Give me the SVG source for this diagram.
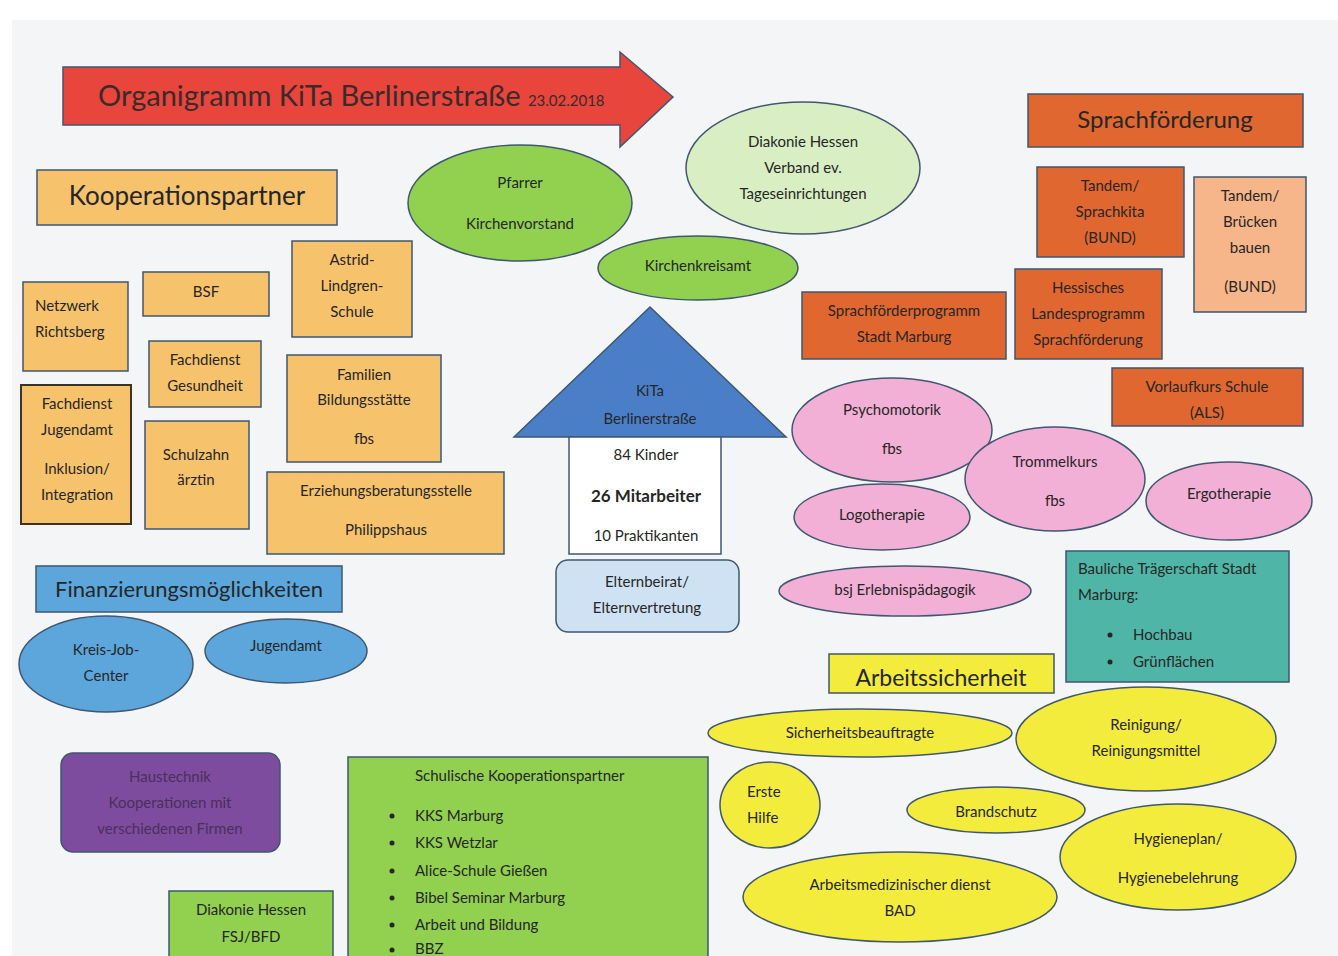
<svg xmlns="http://www.w3.org/2000/svg" width="1338" height="956" viewBox="0 0 1338 956">
<defs>
<style>
text{font-family:Lato,"Open Sans","Liberation Sans",sans-serif;font-size:15px;fill:#262626;text-anchor:middle}
.l{text-anchor:start}
.big{font-size:26px}
.mid{font-size:22px}
.b{stroke:#3f5770;stroke-width:1.5}
.or{fill:#f6c36c}
.rd{fill:#e0672f}
.gr{fill:#92d050}
.pk{fill:#f3b0d6}
.ye{fill:#f3ec3c}
.bl{fill:#5ca6dc}
</style>
</defs>
<rect width="1338" height="956" fill="#ffffff"/>
<rect x="12" y="20" width="1326" height="936" fill="#f3f5f7"/>

<g id="title">
<polygon points="63,67 620,67 620,52 673,97 620,147 620,125 63,125" fill="#e8453c" class="b"/>
<text x="98" y="106" class="l" style="font-size:29px;fill:#3a2a2a">Organigramm KiTa Berlinerstraße <tspan style="font-size:15px">23.02.2018</tspan></text>
</g>

<g id="kooperationspartner">
<rect x="37" y="170" width="300" height="55" class="or b"/>
<text x="187" y="205" class="big">Kooperationspartner</text>
</g>
<g id="pfarrer">
<ellipse cx="520" cy="203" rx="112" ry="58" class="gr b"/>
<text x="520" y="188">Pfarrer</text>
<text x="520" y="229">Kirchenvorstand</text>
</g>
<g id="diakonie-verband">
<ellipse cx="803" cy="168" rx="117" ry="66" fill="#d9eec3" class="b"/>
<text x="803" y="147">Diakonie Hessen</text>
<text x="803" y="173">Verband ev.</text>
<text x="803" y="199">Tageseinrichtungen</text>
</g>
<g id="kirchenkreisamt">
<ellipse cx="698" cy="268" rx="100" ry="32" class="gr b"/>
<text x="698" y="271">Kirchenkreisamt</text>
</g>

<g id="sprachfoerderung">
<rect x="1028" y="94" width="275" height="53" class="rd b"/>
<text x="1165" y="128" class="mid" style="font-size:24px">Sprachförderung</text>
</g>
<g id="tandem-sprachkita">
<rect x="1037" y="167" width="147" height="90" class="rd b"/>
<text x="1110" y="191">Tandem/</text>
<text x="1110" y="217">Sprachkita</text>
<text x="1110" y="243">(BUND)</text>
</g>
<g id="tandem-bruecken">
<rect x="1194" y="177" width="112" height="135" fill="#f7b58a" class="b"/>
<text x="1250" y="201">Tandem/</text>
<text x="1250" y="227">Brücken</text>
<text x="1250" y="253">bauen</text>
<text x="1250" y="292">(BUND)</text>
</g>
<g id="hessisches-landesprogramm">
<rect x="1015" y="269" width="147" height="90" class="rd b"/>
<text x="1088" y="293">Hessisches</text>
<text x="1088" y="319">Landesprogramm</text>
<text x="1088" y="345">Sprachförderung</text>
</g>
<g id="sprachfoerderprogramm">
<rect x="802" y="292" width="204" height="67" class="rd b"/>
<text x="904" y="316">Sprachförderprogramm</text>
<text x="904" y="342">Stadt Marburg</text>
</g>
<g id="vorlaufkurs">
<rect x="1112" y="368" width="191" height="58" class="rd b"/>
<text x="1207" y="392">Vorlaufkurs Schule</text>
<text x="1207" y="418">(ALS)</text>
</g>

<g id="netzwerk">
<rect x="23" y="282" width="105" height="89" class="or b"/>
<text x="35" y="311" class="l">Netzwerk</text>
<text x="35" y="337" class="l">Richtsberg</text>
</g>
<g id="bsf">
<rect x="143" y="272" width="126" height="44" class="or b"/>
<text x="206" y="297">BSF</text>
</g>
<g id="astrid">
<rect x="292" y="241" width="120" height="96" class="or b"/>
<text x="352" y="265">Astrid-</text>
<text x="352" y="291">Lindgren-</text>
<text x="352" y="317">Schule</text>
</g>
<g id="fachdienst-gesundheit">
<rect x="149" y="341" width="112" height="66" class="or b"/>
<text x="205" y="365">Fachdienst</text>
<text x="205" y="391">Gesundheit</text>
</g>
<g id="familien">
<rect x="287" y="355" width="154" height="107" class="or b"/>
<text x="364" y="380">Familien</text>
<text x="364" y="405">Bildungsstätte</text>
<text x="364" y="444">fbs</text>
</g>
<g id="fachdienst-jugendamt">
<rect x="21" y="385" width="110" height="139" class="or" stroke="#3a3326" stroke-width="2"/>
<text x="77" y="409">Fachdienst</text>
<text x="77" y="435">Jugendamt</text>
<text x="77" y="474">Inklusion/</text>
<text x="77" y="500">Integration</text>
</g>
<g id="schulzahnaerztin">
<rect x="145" y="421" width="104" height="108" class="or b"/>
<text x="196" y="460">Schulzahn</text>
<text x="196" y="485">ärztin</text>
</g>
<g id="erziehungsberatung">
<rect x="267" y="472" width="237" height="82" class="or b"/>
<text x="386" y="496">Erziehungsberatungsstelle</text>
<text x="386" y="535">Philippshaus</text>
</g>

<g id="kita">
<polygon points="650,307 786,437 514,437" fill="#4a7fc8" class="b"/>
<text x="650" y="396">KiTa</text>
<text x="650" y="424">Berlinerstraße</text>
<rect x="569" y="437" width="152" height="117" fill="#ffffff" class="b"/>
<text x="646" y="460">84 Kinder</text>
<text x="646" y="502" style="font-size:17px;font-weight:bold">26 Mitarbeiter</text>
<text x="646" y="541">10 Praktikanten</text>
</g>
<g id="elternbeirat">
<rect x="556" y="560" width="183" height="72" rx="12" fill="#cfe2f3" class="b"/>
<text x="647" y="587">Elternbeirat/</text>
<text x="647" y="613">Elternvertretung</text>
</g>

<g id="psychomotorik">
<ellipse cx="892" cy="430" rx="100" ry="52" class="pk b"/>
<text x="892" y="415">Psychomotorik</text>
<text x="892" y="454">fbs</text>
</g>
<g id="trommelkurs">
<ellipse cx="1055" cy="479" rx="90" ry="52" class="pk b"/>
<text x="1055" y="467">Trommelkurs</text>
<text x="1055" y="506">fbs</text>
</g>
<g id="logotherapie">
<ellipse cx="882" cy="517" rx="88" ry="33" class="pk b"/>
<text x="882" y="520">Logotherapie</text>
</g>
<g id="ergotherapie">
<ellipse cx="1229" cy="501" rx="83" ry="39" class="pk b"/>
<text x="1229" y="499">Ergotherapie</text>
</g>
<g id="bsj">
<ellipse cx="905" cy="591" rx="126" ry="25" class="pk b"/>
<text x="905" y="595">bsj Erlebnispädagogik</text>
</g>

<g id="bauliche">
<rect x="1066" y="551" width="223" height="131" fill="#4fb5a6" class="b"/>
<text x="1078" y="574" class="l">Bauliche Trägerschaft Stadt</text>
<text x="1078" y="600" class="l">Marburg:</text>
<circle cx="1110" cy="635" r="2.5" fill="#262626"/>
<text x="1133" y="640" class="l">Hochbau</text>
<circle cx="1110" cy="662" r="2.5" fill="#262626"/>
<text x="1133" y="667" class="l">Grünflächen</text>
</g>

<g id="arbeitssicherheit">
<rect x="829" y="654" width="225" height="39" class="ye b"/>
<text x="941" y="686" style="font-size:23px">Arbeitssicherheit</text>
</g>
<g id="sicherheitsbeauftragte">
<ellipse cx="860" cy="733" rx="152" ry="24" class="ye b"/>
<text x="860" y="738">Sicherheitsbeauftragte</text>
</g>
<g id="reinigung">
<ellipse cx="1146" cy="739" rx="130" ry="52" class="ye b"/>
<text x="1146" y="730">Reinigung/</text>
<text x="1146" y="756">Reinigungsmittel</text>
</g>
<g id="erste-hilfe">
<ellipse cx="770" cy="805" rx="50" ry="43" class="ye b"/>
<text x="747" y="797" class="l">Erste</text>
<text x="747" y="823" class="l">Hilfe</text>
</g>
<g id="brandschutz">
<ellipse cx="996" cy="810" rx="89" ry="23" class="ye b"/>
<text x="996" y="817">Brandschutz</text>
</g>
<g id="hygieneplan">
<ellipse cx="1178" cy="857" rx="118" ry="53" class="ye b"/>
<text x="1178" y="844">Hygieneplan/</text>
<text x="1178" y="883">Hygienebelehrung</text>
</g>
<g id="arbeitsmedizin">
<ellipse cx="900" cy="897" rx="157" ry="45" class="ye b"/>
<text x="900" y="890">Arbeitsmedizinischer dienst</text>
<text x="900" y="916">BAD</text>
</g>

<g id="finanzierung">
<rect x="36" y="566" width="306" height="46" class="bl b"/>
<text x="189" y="597" class="mid">Finanzierungsmöglichkeiten</text>
</g>
<g id="kreis-job-center">
<ellipse cx="106" cy="664" rx="87" ry="48" class="bl b"/>
<text x="106" y="655">Kreis-Job-</text>
<text x="106" y="681">Center</text>
</g>
<g id="jugendamt">
<ellipse cx="286" cy="651" rx="81" ry="32" class="bl b"/>
<text x="286" y="651">Jugendamt</text>
</g>

<g id="haustechnik">
<rect x="61" y="753" width="219" height="99" rx="12" fill="#7d4c9f" class="b"/>
<text x="170" y="782" style="fill:#4a3058">Haustechnik</text>
<text x="170" y="808" style="fill:#4a3058">Kooperationen mit</text>
<text x="170" y="834" style="fill:#4a3058">verschiedenen Firmen</text>
</g>

<g id="schulische">
<rect x="348" y="757" width="360" height="215" class="gr b"/>
<text x="415" y="781" class="l">Schulische Kooperationspartner</text>
<circle cx="392" cy="816" r="2.5" fill="#262626"/>
<text x="415" y="821" class="l">KKS Marburg</text>
<circle cx="392" cy="843" r="2.5" fill="#262626"/>
<text x="415" y="848" class="l">KKS Wetzlar</text>
<circle cx="392" cy="871" r="2.5" fill="#262626"/>
<text x="415" y="876" class="l">Alice-Schule Gießen</text>
<circle cx="392" cy="898" r="2.5" fill="#262626"/>
<text x="415" y="903" class="l">Bibel Seminar Marburg</text>
<circle cx="392" cy="925" r="2.5" fill="#262626"/>
<text x="415" y="930" class="l">Arbeit und Bildung</text>
<circle cx="392" cy="950" r="2.5" fill="#262626"/>
<text x="415" y="954" class="l">BBZ</text>
</g>

<g id="diakonie-fsj">
<rect x="169" y="891" width="164" height="75" class="gr b"/>
<text x="251" y="915">Diakonie Hessen</text>
<text x="251" y="942">FSJ/BFD</text>
</g>

<g id="connectors"></g>
</svg>
